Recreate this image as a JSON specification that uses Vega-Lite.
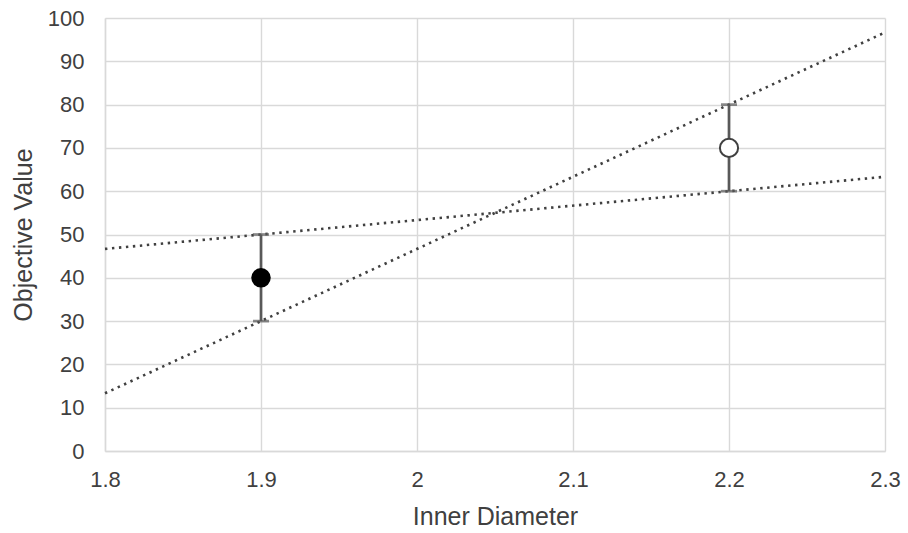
{
  "$schema": "https://vega.github.io/schema/vega-lite/v6.json",
  "width": 780,
  "height": 433,
  "autosize": {"type": "none"},
  "padding": {"left": 105, "top": 18, "right": 23, "bottom": 82},
  "background": "white",
  "config": {
    "view": {"stroke": null},
    "font": "Liberation Sans",
    "axis": {
      "labelFont": "Liberation Sans",
      "titleFont": "Liberation Sans",
      "labelFontSize": 22,
      "titleFontSize": 25,
      "titleFontWeight": "normal",
      "labelColor": "#404040",
      "titleColor": "#404040",
      "gridColor": "#d9d9d9",
      "gridWidth": 1.4,
      "domainColor": "#d9d9d9",
      "domainWidth": 1.4,
      "ticks": false,
      "labelFlush": false,
      "labelOverlap": false
    }
  },
  "layer": [
    {
      "data": {"values": [
        {"d": 1.8, "v": 13.33, "series": "A"},
        {"d": 2.3, "v": 96.67, "series": "A"},
        {"d": 1.8, "v": 46.67, "series": "B"},
        {"d": 2.3, "v": 63.33, "series": "B"}
      ]},
      "mark": {"type": "line", "color": "#404040", "strokeWidth": 2.6, "strokeDash": [2.4, 4.6]},
      "encoding": {
        "x": {"field": "d", "type": "quantitative", "scale": {"domain": [1.8, 2.3], "nice": false, "zero": false},
              "axis": {"title": "Inner Diameter", "values": [1.8, 1.9, 2.0, 2.1, 2.2, 2.3], "labelPadding": 18, "titlePadding": 14, "labelExpr": "datum.value == 2 ? '2' : format(datum.value, '.1f')"}},
        "y": {"field": "v", "type": "quantitative", "scale": {"domain": [0, 100], "nice": false},
              "axis": {"title": "Objective Value", "values": [0,10,20,30,40,50,60,70,80,90,100], "labelPadding": 21, "titlePadding": 11}},
        "detail": {"field": "series"}
      }
    },
    {
      "data": {"values": [
        {"d": 1.9, "lo": 30, "hi": 50},
        {"d": 2.2, "lo": 60, "hi": 80}
      ]},
      "mark": {"type": "rule", "color": "#595959", "strokeWidth": 2.7},
      "encoding": {
        "x": {"field": "d", "type": "quantitative"},
        "y": {"field": "lo", "type": "quantitative"},
        "y2": {"field": "hi"}
      }
    },
    {
      "data": {"values": [
        {"d": 1.9, "v": 30}, {"d": 1.9, "v": 50},
        {"d": 2.2, "v": 60}, {"d": 2.2, "v": 80}
      ]},
      "mark": {"type": "tick", "orient": "horizontal", "color": "#595959", "thickness": 2.7, "size": 16},
      "encoding": {
        "x": {"field": "d", "type": "quantitative"},
        "y": {"field": "v", "type": "quantitative"}
      }
    },
    {
      "data": {"values": [{"d": 1.9, "v": 40}]},
      "mark": {"type": "point", "shape": "circle", "filled": true, "color": "#000000", "size": 380, "opacity": 1},
      "encoding": {
        "x": {"field": "d", "type": "quantitative"},
        "y": {"field": "v", "type": "quantitative"}
      }
    },
    {
      "data": {"values": [{"d": 2.2, "v": 70}]},
      "mark": {"type": "point", "shape": "circle", "filled": false, "fill": "white", "fillOpacity": 1, "stroke": "#404040", "strokeWidth": 2, "size": 330, "opacity": 1},
      "encoding": {
        "x": {"field": "d", "type": "quantitative"},
        "y": {"field": "v", "type": "quantitative"}
      }
    }
  ]
}
